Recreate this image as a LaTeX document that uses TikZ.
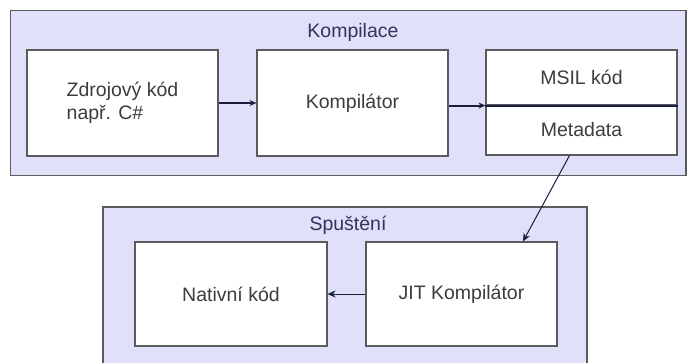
\documentclass[tikz,border=0pt]{standalone}
\usepackage{fontspec}
\setmainfont{Liberation Sans}
\usepackage{tikz}
\usetikzlibrary{shapes, arrows.meta, positioning}

\definecolor{ramec}{RGB}{224,224,248}
\definecolor{okraj}{RGB}{90,90,95}
\definecolor{text}{RGB}{60,60,65}
\definecolor{sipka}{RGB}{25,30,60}

\begin{document}
\begin{tikzpicture}[x=1pt, y=-1pt,
    blok/.style={draw=okraj, fill=white, line width=1.1pt, minimum width=191pt,
      minimum height=106pt, inner sep=0pt, text=text, font=\fontsize{19.5}{23}\selectfont, align=left},
    pul/.style={blok, minimum height=55pt},
    oblast/.style={draw=okraj, fill=ramec, line width=1.1pt},
    titul/.style={text=text!85!blue, font=\fontsize{19.5}{23}\selectfont}]
        \useasboundingbox (0,0) rectangle (691,362);
        \clip (0,0) rectangle (691,362);
        \fill[white] (0,0) rectangle (691,362);

        % Oblasti
        \draw[oblast] (10.5,10.5) rectangle (686,175.5);
        \draw[oblast] (103,207) rectangle (587,380);
        \node[titul] (kompilace) at (353,32) {Kompilace};
        \node[titul] (spusteni) at (348,225) {Spuštění};

        % Kompilace - bloky
        \node[blok] (zdroj) at (122.5,103) {Zdrojový kód\\např. C\#};
        \node[blok] (kompilator) at (352.5,103) {Kompilátor};
        \node[pul] (msil) at (581.5,77.5) {MSIL kód};
        \node[pul, minimum height=50pt] (meta) at (581.5,130) {Metadata};

        % Spuštění - bloky
        \node[blok, minimum width=192pt, minimum height=104pt] (nativni) at (231,294) {Nativní kód};
        \node[blok, minimum width=191pt, minimum height=104pt] (jit) at (461.5,294) {JIT Kompilátor};

        % Šipky
        \draw[sipka, line width=2pt, -{Stealth[length=7pt, width=6pt]}] (zdroj) -- (kompilator);
        \draw[sipka, line width=2pt, -{Stealth[length=7pt, width=6pt]}] (kompilator.east |- msil.south west) -- (msil.south west);
        \draw[sipka, line width=2pt] (msil.south west) -- (msil.south east);
        \draw[sipka, line width=1pt, -{Stealth[length=8pt, width=7pt]}] (meta.south) ++(-12,0) coordinate (m) (m) -- ([xshift=61.5pt]jit.north);
        \draw[sipka, line width=1pt, -{Stealth[length=8pt, width=7pt]}] (jit) -- (nativni);
      \end{tikzpicture}
\end{document}
